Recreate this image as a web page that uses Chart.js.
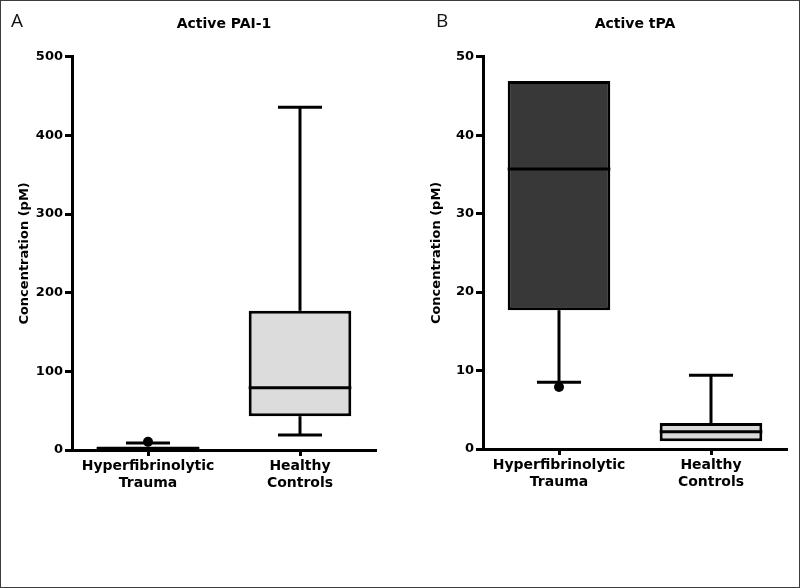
<!DOCTYPE html>
<html><head><meta charset="utf-8">
<script src="https://cdn.jsdelivr.net/npm/chart.js@4.4.0/dist/chart.umd.min.js"></script>
<style>
html,body{margin:0;padding:0;background:#fff;}
#wrap{position:relative;width:800px;height:588px;overflow:hidden;background:#fff;}
canvas{position:absolute;top:0;}
#c1{left:0}
#c2{left:400px}
.frame{position:absolute;left:0;top:0;width:800px;height:588px;box-sizing:border-box;border:1px solid #3c3c3c;pointer-events:none;}
.lab{position:absolute;font-family:"Open Sans","Liberation Sans",sans-serif;font-size:19px;color:#111;line-height:1;}
</style></head><body>
<div id="wrap">
<canvas id="c1" width="400" height="588"></canvas>
<canvas id="c2" width="400" height="588"></canvas>
<div class="lab" style="left:11px;top:11px">A</div>
<div class="lab" style="left:436px;top:11px">B</div>
<div class="frame"></div>
</div>
<script>
// ---- data ----
const categories = [['Hyperfibrinolytic', 'Trauma'], ['Healthy', 'Controls']];

const paiMin      = [0.3, 19];
const paiQ1       = [0.8, 43];
const paiMedian   = [2, 79];
const paiQ3       = [4.5, 177];
const paiMax      = [9, 436];
const paiOutliers = [[10.5], []];
const paiTicks    = [0, 100, 200, 300, 400, 500];

const tpaMin      = [8.5, 1.0];
const tpaQ1       = [17.7, 1.0];
const tpaMedian   = [35.7, 2.2];
const tpaQ3       = [46.9, 3.3];
const tpaMax      = [46.9, 9.4];
const tpaOutliers = [[7.9], []];
const tpaTicks    = [0, 10, 20, 30, 40, 50];

const paiFill = ['#dcdcdc', '#dcdcdc'];
const tpaFill = ['#383838', '#d9d9d9'];

Chart.defaults.font.family = '"DejaVu Sans", sans-serif';
Chart.defaults.color = '#000';

function makeBoxPlugin(stats) {
  return {
    id: 'boxWhisker',
    afterDatasetsDraw(chart) {
      const ctx = chart.ctx;
      const ys = chart.scales.y;
      const xs = chart.scales.x;
      const meta = chart.getDatasetMeta(0);
      const band = xs.width / xs.ticks.length;
      const capHalf = band * 0.29 / 2;
      ctx.save();
      ctx.strokeStyle = '#000';
      ctx.fillStyle = '#000';
      ctx.lineWidth = 3;
      ctx.lineCap = 'butt';
      const line = (x1, y1, x2, y2) => { ctx.beginPath(); ctx.moveTo(x1, y1); ctx.lineTo(x2, y2); ctx.stroke(); };
      meta.data.forEach((bar, i) => {
        const cx = bar.x, half = bar.width / 2;
        const pQ1 = ys.getPixelForValue(stats.q1[i]);
        const pQ3 = ys.getPixelForValue(stats.q3[i]);
        const pMed = ys.getPixelForValue(stats.median[i]);
        const pMax = ys.getPixelForValue(stats.max[i]);
        const pMin = ys.getPixelForValue(stats.min[i]);
        line(cx - half, pMed, cx + half, pMed);
        if (stats.max[i] > stats.q3[i]) {
          line(cx, pQ3, cx, pMax);
          line(cx - capHalf, pMax, cx + capHalf, pMax);
        }
        if (stats.min[i] < stats.q1[i]) {
          line(cx, pQ1, cx, pMin);
          line(cx - capHalf, pMin, cx + capHalf, pMin);
        }
        stats.outliers[i].forEach(v => {
          ctx.beginPath();
          ctx.arc(cx, ys.getPixelForValue(v), 5, 0, Math.PI * 2);
          ctx.fill();
        });
      });
      ctx.restore();
    }
  };
}

function makeChart(id, title, stats, fills, ticks, yAxisWidth, xAxisHeight, rightPad, yTitlePad, titlePad) {
  return new Chart(document.getElementById(id), {
    type: 'bar',
    data: {
      labels: categories,
      datasets: [{
        data: categories.map((c, i) => [stats.q1[i], stats.q3[i]]),
        backgroundColor: fills,
        borderColor: '#000',
        borderWidth: 3,
        borderSkipped: false,
        barPercentage: 0.675,
        categoryPercentage: 1
      }]
    },
    options: {
      responsive: false,
      animation: false,
      devicePixelRatio: 1,
      layout: { padding: { left: 0, right: rightPad, top: 0, bottom: 0 } },
      plugins: {
        legend: { display: false },
        tooltip: { enabled: false },
        title: {
          display: true,
          text: title,
          fullSize: false,
          color: '#000',
          font: { size: 14, weight: 'bold' },
          padding: titlePad
        }
      },
      scales: {
        x: {
          type: 'category',
          offset: true,
          afterFit: s => { s.height = xAxisHeight; },
          border: { display: true, color: '#000', width: 3 },
          grid: { display: true, offset: false, drawOnChartArea: false, drawTicks: true, tickLength: 6, tickWidth: 3, tickColor: '#000' },
          ticks: { color: '#000', font: { size: 14, weight: 'bold' }, padding: 2, maxRotation: 0, autoSkip: false }
        },
        y: {
          min: ticks[0],
          max: ticks[ticks.length - 1],
          afterFit: s => { s.width = yAxisWidth; },
          border: { display: true, color: '#000', width: 3 },
          grid: { display: true, drawOnChartArea: false, drawTicks: true, tickLength: 7, tickWidth: 3, tickColor: '#000' },
          ticks: { stepSize: ticks[1] - ticks[0], color: '#000', font: { size: 13, weight: 'bold' }, padding: 2 },
          title: {
            display: true,
            text: 'Concentration (pM)',
            color: '#000',
            font: { size: 13, weight: 'bold' },
            padding: { top: yTitlePad, bottom: 0 }
          }
        }
      }
    },
    plugins: [makeBoxPlugin(stats)]
  });
}

makeChart('c1', 'Active PAI-1',
  { min: paiMin, q1: paiQ1, median: paiMedian, q3: paiQ3, max: paiMax, outliers: paiOutliers },
  paiFill, paiTicks, 72, 138, 24, 17, { top: 16, bottom: 24 });

makeChart('c2', 'Active tPA',
  { min: tpaMin, q1: tpaQ1, median: tpaMedian, q3: tpaQ3, max: tpaMax, outliers: tpaOutliers },
  tpaFill, tpaTicks, 83, 139, 13, 29, { top: 16, bottom: 24 });
</script>
</body></html>
